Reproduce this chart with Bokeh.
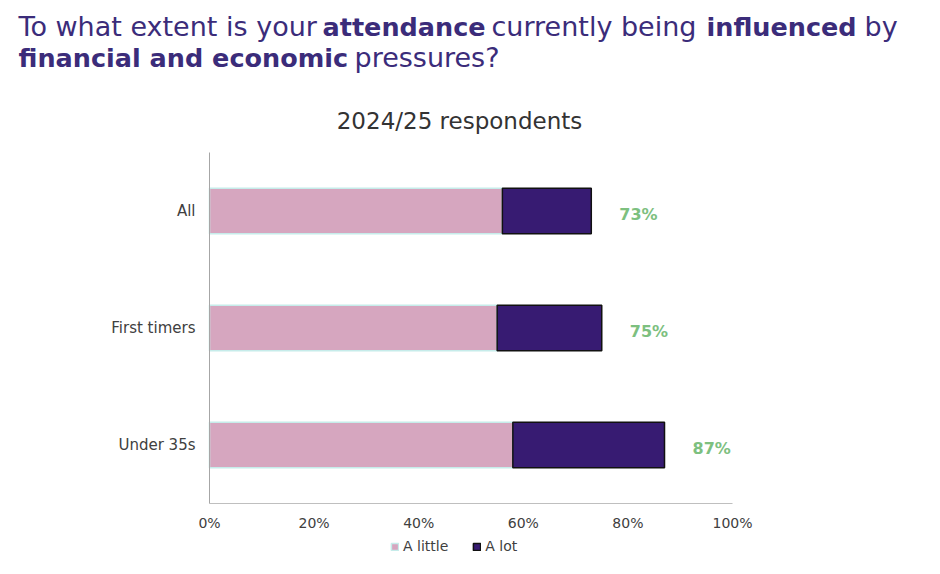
from bokeh.plotting import figure
from bokeh.models import (ColumnDataSource, Range1d, FixedTicker, LinearAxis,
                          PrintfTickFormatter, Label, Legend, LegendItem)
from bokeh.core.properties import value
from bokeh.embed import file_html
from bokeh.resources import INLINE

categories = ["All", "First timers", "Under 35s"]
a_little = [56, 55, 58]
a_lot = [17, 20, 29]
x_ticks = [0, 20, 40, 60, 80, 100]

n = len(categories)
ypos = [n - 1 - i for i in range(n)]          # All on top
totals = [l + m for l, m in zip(a_little, a_lot)]
src = ColumnDataSource(dict(
    y=ypos,
    cat=categories,
    little=a_little,
    lot=a_lot,
    total=totals,
    lbl=[f"{t}%" for t in totals],
))

TITLE_C = "#3b2c7a"
TEXT_C = "#404040"
FONT = "DejaVu Sans"

W, H = 932, 566
# plot-area geometry (pixels): value 0 -> x 209, 100 -> x 732; band = 117 px
PX_PER_PCT = 5.23
BAND = 117.0
X0_PX = 209
BOTTOM_PX = 503  # bottom edge of the category area

x_start = -X0_PX / PX_PER_PCT
x_end = x_start + W / PX_PER_PCT
y_start = -0.5 - (H - BOTTOM_PX) / BAND
y_end = y_start + H / BAND

p = figure(width=W, height=H, output_backend="svg", toolbar_location=None,
           x_range=Range1d(x_start, x_end), y_range=Range1d(y_start, y_end),
           x_axis_location=None, y_axis_location=None,
           min_border=0, min_border_left=0, min_border_right=0,
           min_border_top=0, min_border_bottom=0)
p.outline_line_color = None
p.xgrid.visible = False
p.ygrid.visible = False

r1 = p.hbar(y="y", left=0, right="little", height=0.39, source=src,
            fill_color="#d6a6bf", line_color="#c6ecea", line_width=1.5)
r2 = p.hbar(y="y", left="little", right="total", height=0.39, source=src,
            fill_color="#371b72", line_color="#111111", line_width=1.5)

p.text(x="total", y="y", text="lbl", source=src, x_offset=28, y_offset=3,
       text_align="left", text_baseline="middle", text_color="#7dc07f",
       text_font_size="16px", text_font_style="bold", text_font=value(FONT))

# axes
xaxis = LinearAxis(fixed_location=-0.5, bounds=(0, 100),
                   ticker=FixedTicker(ticks=x_ticks),
                   formatter=PrintfTickFormatter(format="%d%%"),
                   axis_line_color="#bfbfbf", major_tick_line_color=None,
                   minor_tick_line_color=None, major_label_text_font=FONT,
                   major_label_text_font_size="14px",
                   major_label_text_color=TEXT_C, major_label_standoff=5)
p.add_layout(xaxis, "below")

yaxis = LinearAxis(fixed_location=0, bounds=(-0.5, n - 0.5),
                   ticker=FixedTicker(ticks=ypos),
                   major_label_overrides={y: c for y, c in zip(ypos, categories)},
                   axis_line_color="#a6a6a6", major_tick_line_color=None,
                   minor_tick_line_color=None, major_label_text_font=FONT,
                   major_label_text_font_size="15px",
                   major_label_text_color=TEXT_C, major_label_standoff=8)
p.add_layout(yaxis, "left")

# legend
legend = Legend(items=[LegendItem(label="A little", renderers=[r1]),
                       LegendItem(label="A lot", renderers=[r2])],
                orientation="horizontal", location=(390, H - 554),
                glyph_width=9, glyph_height=9, label_standoff=4, spacing=24,
                padding=0, margin=0, border_line_color=None,
                background_fill_alpha=0, label_text_font=FONT,
                label_text_font_size="14px", label_text_color=TEXT_C,
                label_height=16)
p.add_layout(legend, "center")

# title runs (screen px from left / from bottom)
LIFT = 8
runs = [
    ("To what extent is your", 18, 34, "normal", "27px"),
    ("attendance", 322, 34, "bold", "25.5px"),
    ("currently being", 491, 34, "normal", "27px"),
    ("influenced", 706, 34, "bold", "25.5px"),
    ("by", 864, 34, "normal", "27px"),
    ("financial and economic", 18, 65, "bold", "25.5px"),
    ("pressures?", 354, 65, "normal", "27px"),
]
for txt, ix, iy, style, size in runs:
    p.add_layout(Label(x=ix, y=H - iy + LIFT, x_units="screen", y_units="screen",
                       text=txt, text_font=FONT, text_font_style=style,
                       text_font_size=size, text_color=TITLE_C,
                       text_baseline="alphabetic", text_align="left"))

p.add_layout(Label(x=459, y=H - 128 + LIFT, x_units="screen", y_units="screen",
                   text="2024/25 respondents", text_font=FONT,
                   text_font_size="23px", text_color="#333333",
                   text_baseline="alphabetic", text_align="center"))

open("out.html", "w").write(file_html(p, INLINE))
